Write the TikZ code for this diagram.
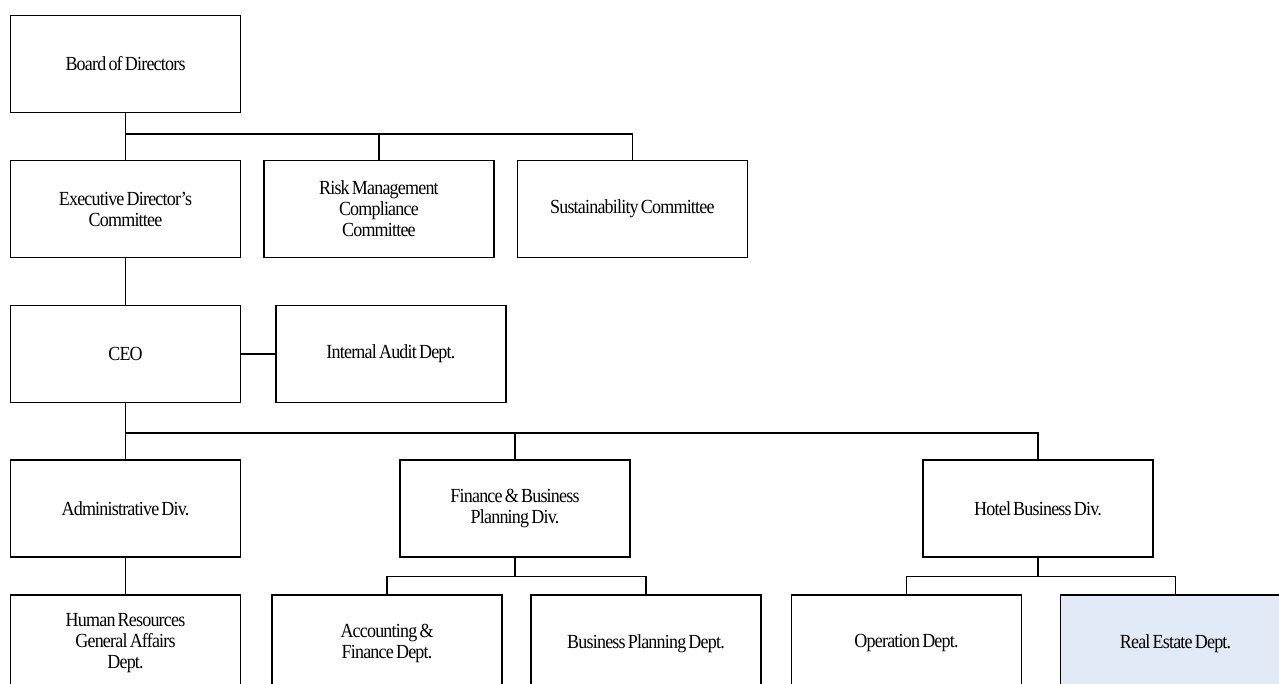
\documentclass[tikz,border=0pt]{standalone}
\usepackage{fontspec}
\usetikzlibrary{positioning}
\newfontfamily\orgfont{Liberation Serif}[FakeStretch=0.9, LetterSpace=-4, WordSpace=0.6]
\definecolor{estatefill}{HTML}{E3EAF7}

\begin{document}
\begin{tikzpicture}[x=1pt, y=-1pt, node distance=22pt,
    unit/.style={rectangle, draw, line width=1.4pt, minimum width=230pt, minimum height=97pt,
      inner sep=0pt, align=center, font={\orgfont\fontsize{20pt}{21pt}\selectfont}},
    link/.style={line width=1.4pt}]
    \useasboundingbox (0,0) rectangle (1279,684);

    \node(board)[unit] at (125.5,64) {Board of Directors};
    \node(edc)[unit] at (125.5,209) {Executive Director’s\\Committee};
    \node(rmc)[unit, right=of edc] {Risk Management\\Compliance\\Committee};
    \node(sc)[unit, right=of rmc] {Sustainability Committee};

    \node(ceo)[unit] at (125.5,354) {CEO};
    \node(iad)[unit, right=34pt of ceo] {Internal Audit Dept.};

    \node(adm)[unit] at (125.5,508.5) {Administrative Div.};
    \node(fbp)[unit] at (515,508.5) {Finance \& Business\\Planning Div.};
    \node(hbd)[unit] at (1038,508.5) {Hotel Business Div.};

    \node(hrd)[unit] at (125.5,643.5) {Human Resources\\General Affairs\\Dept.};
    \node(afd)[unit] at (387,643.5) {Accounting \&\\Finance Dept.};
    \node(bpd)[unit] at (646,643.5) {Business Planning Dept.};
    \node(opd)[unit] at (906.5,643.5) {Operation Dept.};
    \node(red)[unit, fill=estatefill] at (1175.5,643.5) {Real Estate Dept.};

    \coordinate(top) at (125.5,134);
    \coordinate(mid) at (125.5,433);

    \draw[link] (board) -- (edc);
    \draw[link] (top) -| (rmc.north);
    \draw[link] (top) -| (sc.north);
    \draw[link] (edc) -- (ceo);
    \draw[link] (ceo) -- (iad);

    \draw[link] (ceo) -- (adm);
    \draw[link] (mid) -| (fbp.north);
    \draw[link] (mid) -| (hbd.north);
    \draw[link] (adm) -- (hrd);

    \draw[link] (fbp.south) -- ++(0,19) coordinate(fin);
    \draw[link] (fin) -| (afd.north);
    \draw[link] (fin) -| (bpd.north);
    \draw[link] (hbd.south) -- ++(0,19) coordinate(hot);
    \draw[link] (hot) -| (opd.north);
    \draw[link] (hot) -| (red.north);

  \end{tikzpicture}
\end{document}
